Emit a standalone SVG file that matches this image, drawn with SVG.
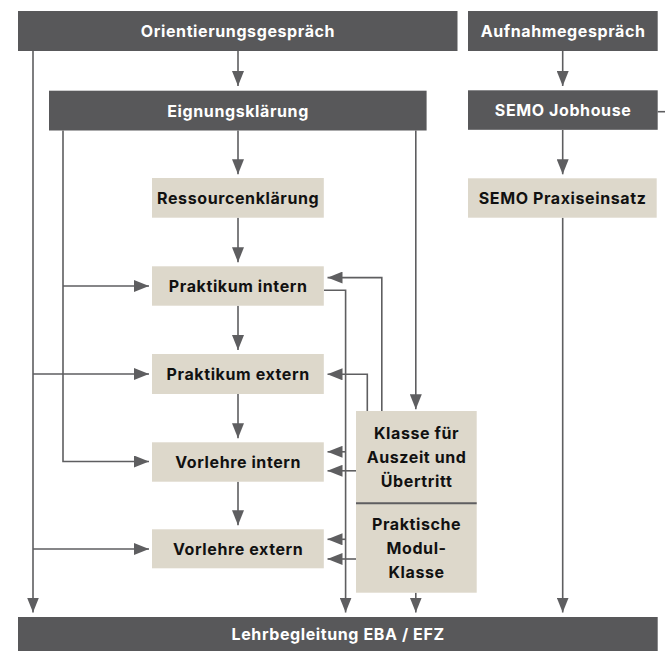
<svg xmlns="http://www.w3.org/2000/svg" width="665" height="651" viewBox="0 0 665 651">
<style>
.dark{fill:#58585a}
.beige{fill:#ddd8cb}
.t{font-family:Inter,"Liberation Sans",Arial,sans-serif;font-weight:700;font-size:16px;letter-spacing:0.6px;text-anchor:middle}
.w{fill:#ffffff}
.b{fill:#111111}
.c{fill:none;stroke:#5e5e60;stroke-width:1.6}
</style>
<defs>
<marker id="ah" markerUnits="userSpaceOnUse" markerWidth="15" markerHeight="12" refX="15" refY="6" orient="auto">
<path d="M0,0 L15,6 L0,12 z" fill="#5e5e60"/>
</marker>
</defs>
<rect width="665" height="651" fill="#ffffff"/>
<g id="connectors">
<path class="c" d="M238,51 V86" marker-end="url(#ah)"/>
<path class="c" d="M562.7,51 V86" marker-end="url(#ah)"/>
<path class="c" d="M238,130.5 V174.3" marker-end="url(#ah)"/>
<path class="c" d="M562.7,130 V174.3" marker-end="url(#ah)"/>
<path class="c" d="M238,217.7 V262.3" marker-end="url(#ah)"/>
<path class="c" d="M238,305.7 V350" marker-end="url(#ah)"/>
<path class="c" d="M238,394 V438.3" marker-end="url(#ah)"/>
<path class="c" d="M238,481.7 V525.3" marker-end="url(#ah)"/>
<path class="c" d="M33,51 V612.5" marker-end="url(#ah)"/>
<path class="c" d="M33,374 H149" marker-end="url(#ah)"/>
<path class="c" d="M33,549 H149" marker-end="url(#ah)"/>
<path class="c" d="M63,130.5 V461.5 H149" marker-end="url(#ah)"/>
<path class="c" d="M63,286 H149" marker-end="url(#ah)"/>
<path class="c" d="M415.8,130.5 V409.3" marker-end="url(#ah)"/>
<path class="c" d="M381.8,411 V277.6 H327.5" marker-end="url(#ah)"/>
<path class="c" d="M367.3,411 V374.3 H327.5" marker-end="url(#ah)"/>
<path class="c" d="M324,290.3 H345.6 V612.5" marker-end="url(#ah)"/>
<path class="c" d="M345.6,451.8 H327.5" marker-end="url(#ah)"/>
<path class="c" d="M345.6,539.3 H327.5" marker-end="url(#ah)"/>
<path class="c" d="M356,470.8 H327.5" marker-end="url(#ah)"/>
<path class="c" d="M356,559 H327.5" marker-end="url(#ah)"/>
<path class="c" d="M415.8,592.7 V612.5" marker-end="url(#ah)"/>
<path class="c" d="M562.7,217.7 V612.5" marker-end="url(#ah)"/>
<path class="c" d="M657.7,111.7 H665"/>
</g>
<g id="orientierung">
<rect class="dark" x="18" y="11" width="439.5" height="40"/>
<text class="t w" x="238" y="37">Orientierungsgespräch</text>
</g>
<g id="aufnahme">
<rect class="dark" x="468" y="11" width="189.7" height="40"/>
<text class="t w" x="563.1" y="37">Aufnahmegespräch</text>
</g>
<g id="eignung">
<rect class="dark" x="49" y="90.7" width="377.6" height="39.8"/>
<text class="t w" x="238.1" y="116.5">Eignungsklärung</text>
</g>
<g id="jobhouse">
<rect class="dark" x="468" y="90.3" width="189.7" height="39.5"/>
<text class="t w" x="563.1" y="116.1">SEMO Jobhouse</text>
</g>
<g id="ressourcen">
<rect class="beige" x="152" y="178" width="171.8" height="39.7"/>
<text class="t b" x="238.2" y="203.8">Ressourcenklärung</text>
</g>
<g id="praxiseinsatz">
<rect class="beige" x="468" y="178.3" width="188.7" height="39.4"/>
<text class="t b" x="562.6" y="204">SEMO Praxiseinsatz</text>
</g>
<g id="praktikum-intern">
<rect class="beige" x="152" y="266.3" width="171.8" height="39.4"/>
<text class="t b" x="238.2" y="292">Praktikum intern</text>
</g>
<g id="praktikum-extern">
<rect class="beige" x="152" y="354" width="171.8" height="40"/>
<text class="t b" x="238.2" y="380">Praktikum extern</text>
</g>
<g id="vorlehre-intern">
<rect class="beige" x="152" y="442.3" width="171.8" height="39.4"/>
<text class="t b" x="238.2" y="468">Vorlehre intern</text>
</g>
<g id="vorlehre-extern">
<rect class="beige" x="152" y="529.3" width="171.8" height="39"/>
<text class="t b" x="238.2" y="554.8">Vorlehre extern</text>
</g>
<g id="klasse">
<rect class="beige" x="356" y="411" width="120.7" height="181.7"/>
<line x1="356" y1="503.3" x2="476.7" y2="503.3" stroke="#5e5e60" stroke-width="2"/>
<text class="t b" x="416.6" y="439">Klasse für</text>
<text class="t b" x="416.6" y="463">Auszeit und</text>
<text class="t b" x="416.6" y="487">Übertritt</text>
<text class="t b" x="416.6" y="530">Praktische</text>
<text class="t b" x="416.6" y="554">Modul-</text>
<text class="t b" x="416.6" y="578">Klasse</text>
</g>
<g id="lehrbegleitung">
<rect class="dark" x="18" y="617" width="639.7" height="34"/>
<text class="t w" x="338.1" y="639.5">Lehrbegleitung EBA / EFZ</text>
</g>
</svg>
